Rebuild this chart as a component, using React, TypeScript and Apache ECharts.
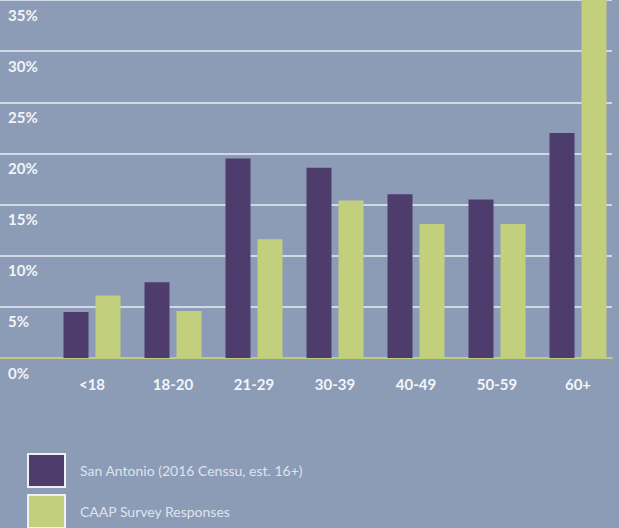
import React, { useEffect, useRef } from "react";
import * as echarts from "echarts";

const categories = ["<18", "18-20", "21-29", "30-39", "40-49", "50-59", "60+"];
const sanAntonio = [4.5, 7.4, 19.5, 18.6, 16.0, 15.5, 22.0];
const caapSurvey = [6.1, 4.6, 11.6, 15.4, 13.1, 13.1, 38.0];
const yTicks = [0, 5, 10, 15, 20, 25, 30, 35];
const seriesNames = ["San Antonio (2016 Censsu, est. 16+)", "CAAP Survey Responses"];

const BG = "#8c9bb6";
const PURPLE = "#4d3c6c";
const GREEN = "#c2cf7c";

export default function App() {
  const ref = useRef<HTMLDivElement>(null);
  useEffect(() => {
    if (!ref.current) return;
    const chart = echarts.init(ref.current, null, { renderer: "svg" });
    const yMax = yTicks[yTicks.length - 1];
    const legendBase = {
      orient: "vertical",
      left: 27,
      padding: 0,
      icon: "rect",
      itemWidth: 37,
      itemHeight: 33,
      itemStyle: { borderColor: "#eef0f6", borderWidth: 2 },
      textStyle: {
        color: "#dfe4ee",
        fontSize: 14,
        fontFamily: "Lato",
        padding: [0, 0, 0, 10],
      },
    };
    chart.setOption({
      animation: false,
      backgroundColor: BG,
      grid: [
        { left: 0, right: 7, top: 0, bottom: 170 },
        { left: 51.5, right: 0.5, top: 0, bottom: 170 },
      ],
      xAxis: [
        {
          gridIndex: 0,
          type: "category",
          data: [""],
          axisLine: { show: true, lineStyle: { color: "#bfcb7e", width: 2 } },
          axisTick: { show: false },
          axisLabel: { show: false },
        },
        {
          gridIndex: 1,
          type: "category",
          data: categories,
          axisLine: { show: false },
          axisTick: { show: false },
          axisLabel: {
            margin: 18,
            color: "#f3f5f9",
            fontSize: 15,
            fontWeight: "bold",
            fontFamily: "Lato",
          },
        },
      ],
      yAxis: [
        {
          gridIndex: 0,
          type: "value",
          min: 0,
          max: yMax,
          interval: 5,
          axisLine: { show: false },
          axisTick: { show: false },
          splitLine: { show: true, lineStyle: { color: "#e9eef6", width: 1.5 } },
          axisLabel: {
            inside: true,
            margin: 8,
            verticalAlign: "top",
            padding: [7, 0, 0, 0],
            formatter: (v: number) => `${v}%`,
            color: "#f3f5f9",
            fontSize: 15,
            fontWeight: "bold",
            fontFamily: "Lato",
          },
        },
        {
          gridIndex: 1,
          type: "value",
          min: 0,
          max: yMax,
          interval: 5,
          show: false,
          splitLine: { show: false },
        },
      ],
      legend: [
        { ...legendBase, top: 453, data: [seriesNames[0]] },
        { ...legendBase, top: 494, data: [seriesNames[1]] },
      ],
      series: [
        {
          name: seriesNames[0],
          type: "bar",
          xAxisIndex: 1,
          yAxisIndex: 1,
          data: sanAntonio,
          barWidth: 25,
          barGap: "28%",
          itemStyle: { color: PURPLE },
        },
        {
          name: seriesNames[1],
          type: "bar",
          xAxisIndex: 1,
          yAxisIndex: 1,
          data: caapSurvey,
          barWidth: 25,
          barGap: "28%",
          itemStyle: { color: GREEN },
        },
      ],
    });
    return () => chart.dispose();
  }, []);
  return (
    <div
      ref={ref}
      style={{ position: "fixed", left: 0, top: 0, width: 619, height: 528 }}
    />
  );
}
